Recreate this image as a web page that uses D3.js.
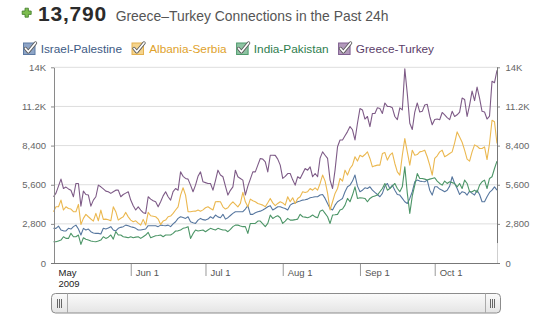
<!DOCTYPE html>
<html><head><meta charset="utf-8">
<script src="https://cdn.jsdelivr.net/npm/d3@7"></script>
<style>
html,body{margin:0;padding:0;background:#fff;}
svg{display:block;font-family:"Liberation Sans",Arial,sans-serif;}
</style></head><body>
<svg id="chart" width="544" height="327"></svg>
<script>
// ---------- data ----------
const headlineValue = 13790;
const headlineText = "Greece\u2013Turkey Connections in the Past 24h";
const seriesNames = ["Israel-Palestine", "Albania-Serbia", "India-Pakistan", "Greece-Turkey"];
const startDay = "2009-05-01";   // first daily point
const endDay = "2009-10-26";     // last daily point
const monthTicks = ["2009-05-01", "2009-06-01", "2009-07-01", "2009-08-01", "2009-09-01", "2009-10-01"];
const monthLabels = ["May", "Jun 1", "Jul 1", "Aug 1", "Sep 1", "Oct 1"];
const yearLabel = "2009";
const yTicks = [0, 2800, 5600, 8400, 11200, 14000];
const yTickLabels = ["0", "2,800", "5,600", "8,400", "11.2K", "14K"];

const israelPalestine = [
2480,2480,2640,2360,2300,2290,2480,2430,2600,2710,
2430,2000,2480,2360,2430,2240,2150,2120,2120,2070,
2480,2430,2500,2600,2360,2290,2480,2550,2600,2710,
2670,2600,2550,2480,2360,2360,2400,2430,2670,2670,
2670,2670,2600,2710,2680,2670,2710,2600,2800,2950,
3190,3310,3250,3190,3310,2950,2880,2830,3070,3190,
3100,3070,3140,3310,3190,3430,3300,3240,3480,3140,
3240,3400,3550,3670,3670,3670,3670,3860,4100,3480,
3480,3600,3670,3710,3790,3900,4020,4100,3790,3900,
4020,4020,3950,3900,3790,4140,4260,4300,4380,4430,
4500,4520,4570,4670,4700,4740,4740,4860,4900,4620,
4260,3900,3790,4140,4380,4500,4620,5100,5450,5570,
5860,6290,5500,5100,5210,5380,5330,5450,5210,5050,
4900,4740,4980,5500,5690,5330,5570,5210,4900,4860,
4620,4380,4260,4620,5100,5810,5930,5860,5830,5810,
5930,5210,4860,5450,5450,5290,5210,5100,5210,5500,
6170,5690,5330,4900,5100,5050,4860,5140,4980,4860,
5210,4900,4380,4380,4740,5050,5210,5450,5210];

const albaniaSerbia = [
3670,4020,4020,4500,3790,4020,3900,3860,3670,3670,
4190,2760,3190,3480,3310,3150,3000,3550,3020,3790,
3120,3140,3100,3020,4020,3670,3070,3200,3310,3620,
3300,3070,2950,3020,2850,2710,3120,2710,3620,3380,
3350,3310,3140,2760,3000,3070,3310,3360,3550,3790,
4020,4860,5380,4860,3670,3670,3700,3710,3790,3710,
3800,3950,4020,3900,3790,4380,4400,4380,4020,3860,
3950,4190,4380,4200,4020,4260,5050,4380,4020,4570,
4450,4380,4260,4200,4140,4020,4310,4620,4300,4100,
4260,4380,4300,4140,4740,4380,4670,4260,4620,4740,
5100,5050,5100,5330,5210,5380,5210,5690,6290,5860,
5000,3790,4380,4980,5330,6050,5860,6640,6290,6760,
7000,7600,7290,7710,7600,7760,7950,7480,6880,6950,
7000,7000,7830,7900,7360,7710,7880,7120,6520,6290,
7710,8900,7950,7000,8070,7710,7760,7950,8000,8070,
7600,7000,6290,7480,7670,7950,8070,7600,7710,7830,
7950,8600,9380,9020,8640,8070,7430,7290,7950,8450,
8360,8190,8190,8310,7400,8550,10210,10100,8550];

const indiaPakistan = [
1520,1520,1580,1640,1880,1760,1760,2120,1880,1880,
2000,1330,1810,1700,1640,1570,1540,1520,1570,1640,
1880,1760,1850,2000,1710,2240,2000,2000,1880,1850,
1810,1880,1810,1850,1880,1760,1880,2000,2190,1810,
1880,1950,1970,2000,1880,2000,2000,2000,2120,2290,
2300,2360,2480,2520,2600,1760,2100,2360,2290,2330,
2360,2240,2360,2480,2420,2360,2480,2420,2360,2360,
2240,2400,2600,2710,2710,2650,2600,2600,2120,2830,
2830,2830,3000,3000,2800,2600,2830,3430,3190,3300,
3380,3240,2830,3000,3190,3070,3070,3100,3140,3480,
3310,3280,3240,3310,3430,3300,3240,3710,3790,3550,
3310,2830,3430,3450,3480,3790,3860,4140,4620,4380,
4860,5450,4620,4670,4650,4620,4380,4620,4740,4800,
4860,5100,5330,5690,5210,5330,5500,5690,5330,5100,
5450,6880,5000,3550,4800,5570,6400,6050,6050,6000,
5930,6000,6050,6100,5860,5690,5570,5860,5690,5810,
5750,5690,5450,5690,5330,5930,5690,5100,5100,5210,
5050,5570,5810,5930,5330,6050,6170,6760,7290];

const greeceTurkey = [
4740,5000,5500,6000,5330,5430,5300,5200,4740,5690,
5690,4070,5140,4900,4860,4070,4500,4740,5570,5450,
5300,5140,5100,4980,5100,5210,5210,4740,4900,5000,
5100,4500,4100,3790,4020,3790,3600,3550,4740,4570,
4450,4380,4020,4380,4800,5100,4740,4500,5100,5330,
5210,6520,6200,6050,6000,5570,5100,5570,6200,6520,
5810,5750,5690,5690,5210,5900,6640,6300,6170,5500,
4860,5200,5450,6640,6170,6050,5930,4860,5500,6000,
6520,6520,7000,7480,7430,7240,6520,7710,7710,7700,
7430,7000,6050,6200,6400,6400,5950,5570,6170,6050,
6400,6760,6640,6880,6170,6400,6170,7500,7950,7710,
7480,5930,5330,6640,8320,8800,8800,9100,9400,9760,
9530,8800,10000,11050,10950,10300,10480,9760,10700,10700,
11100,11050,10700,11450,11200,11200,11100,10480,10260,11100,
10950,13900,12100,10000,9550,10800,11450,10800,10850,11300,
11350,10500,9890,10270,10300,10250,10770,10600,10400,10260,
10850,10480,10600,10800,11800,11700,10480,11300,12300,11620,
12580,11800,10850,10800,10300,10500,13000,12900,13790];

const seriesValues = [israelPalestine, albaniaSerbia, indiaPakistan, greeceTurkey];

// ---------- styles ----------
const lineColors = ["#57779f", "#ebb850", "#4c9567", "#7e5b87"];
const legendText = ["#3d5a84", "#e0a22c", "#2f7d4e", "#5b3d69"];
const boxFill = ["#8ea5c7", "#f5d48d", "#8ec3a2", "#b29abb"];
const boxStroke = ["#5d7aa3", "#e3b04e", "#4f9a6c", "#806090"];

const parse = d3.timeParse("%Y-%m-%d");
const t0 = parse(startDay), t1 = parse(endDay);
const dates = d3.timeDay.range(t0, d3.timeDay.offset(t1, 1));

const svg = d3.select("#chart");

const x = d3.scaleTime().domain([t0, t1]).range([53.5, 497]);
const y = d3.scaleLinear().domain([0, 14000]).range([263, 67.3]);
const L = 54, R = 497;

// ---------- header ----------
const plus = svg.append("g").attr("transform", "translate(26.7,12.7)");
plus.append("path")
  .attr("d", "M-1.7,-4.5H1.7V-1.7H4.5V1.7H1.7V4.5H-1.7V1.7H-4.5V-1.7H-1.7Z")
  .attr("fill", "#7dbd4f").attr("stroke", "#3f7a28").attr("stroke-width", 0.8);

svg.append("text").attr("x", 38).attr("y", 20.7)
  .attr("font-size", 21).attr("font-weight", "bold").attr("letter-spacing", 0.8)
  .attr("fill", "#2b2b2b").text(d3.format(",")(headlineValue));
svg.append("text").attr("x", 115.7).attr("y", 20.7)
  .attr("font-size", 13.9).attr("fill", "#555").text(headlineText);

// ---------- legend ----------
let lx = 23;
seriesNames.forEach((name, i) => {
  const g = svg.append("g").attr("transform", `translate(${lx},42.5)`);
  g.append("rect").attr("x", 0.5).attr("y", 0.5).attr("width", 11.5).attr("height", 11.5)
    .attr("fill", boxFill[i]).attr("stroke", boxStroke[i]).attr("stroke-width", 1);
  const ck = "M2.5,6 L5.3,9.3 L12.5,0.5";
  g.append("path").attr("d", ck).attr("fill", "none").attr("stroke", "#5a5a5a")
    .attr("stroke-width", 3.4).attr("stroke-linecap", "round").attr("stroke-linejoin", "round");
  g.append("path").attr("d", ck).attr("fill", "none").attr("stroke", "#fff")
    .attr("stroke-width", 1.7).attr("stroke-linecap", "round").attr("stroke-linejoin", "round");
  const t = g.append("text").attr("x", 17.7).attr("y", 10.8).attr("font-size", 11.8)
    .attr("fill", legendText[i]).text(name);
  lx += 17.7 + t.node().getComputedTextLength() + 9.5;
});

// ---------- grid ----------
svg.append("g").selectAll("line").data(yTicks.filter(d => d > 0)).join("line")
  .attr("x1", L).attr("x2", R).attr("y1", d => y(d)).attr("y2", d => y(d))
  .attr("stroke", "#dedede").attr("stroke-width", 1);

// ---------- lines ----------
const line = d3.line().x((d, i) => x(dates[i])).y(d => y(d));
svg.append("g").selectAll("path").data(seriesValues).join("path")
  .attr("d", d => line(d)).attr("fill", "none")
  .attr("stroke", (d, i) => lineColors[i]).attr("stroke-width", 1.1)
  .attr("stroke-linejoin", "round");

// ---------- y axes ----------
const fmtY = d => yTickLabels[yTicks.indexOf(d)];
const yl = svg.append("g").attr("transform", `translate(${L},0)`)
  .call(d3.axisLeft(y).tickValues(yTicks).tickFormat(fmtY).tickSizeInner(3).tickSizeOuter(0).tickPadding(5));
const yr = svg.append("g").attr("transform", `translate(${R},0)`)
  .call(d3.axisRight(y).tickValues(yTicks).tickFormat(fmtY).tickSizeInner(3).tickSizeOuter(0).tickPadding(5.5));
[yl, yr].forEach(a => {
  a.select(".domain").attr("stroke", "#8a8a8a");
  a.selectAll(".tick line").attr("stroke", "#8a8a8a");
  a.selectAll("text").attr("font-size", 9.5).attr("fill", "#666").attr("font-family", "Liberation Sans, Arial, sans-serif");
});
// lighter bottom segment on the right axis as in the reference
yr.select(".domain").remove();
yr.append("line").attr("x1", 0.5).attr("x2", 0.5).attr("y1", y(14000)).attr("y2", y(1400)).attr("stroke", "#777");
yr.append("line").attr("x1", 0.5).attr("x2", 0.5).attr("y1", y(1400)).attr("y2", y(0)).attr("stroke", "#cfcfcf");

// ---------- x axis ----------
const tickDates = monthTicks.map(parse);
const xa = svg.append("g").attr("transform", "translate(0,263)")
  .call(d3.axisBottom(x).tickValues(tickDates)
    .tickFormat((d, i) => monthLabels[i]).tickSizeInner(13).tickSizeOuter(0).tickPadding(0));
xa.select(".domain").remove();
xa.append("line").attr("x1", 51).attr("x2", 500).attr("y1", 0.5).attr("y2", 0.5).attr("stroke", "#777");
xa.selectAll(".tick line").attr("stroke", "#999").attr("y1", 1);
xa.selectAll(".tick").filter((d, i) => i === 0).select("line").remove();
xa.selectAll(".tick text")
  .attr("text-anchor", "start").attr("x", 4.5).attr("y", 12.5).attr("dy", 0)
  .attr("font-size", 9.5).attr("fill", (d, i) => i === 0 ? "#222" : "#555")
  .attr("font-family", "Liberation Sans, Arial, sans-serif");
xa.selectAll(".tick").filter((d, i) => i === 0).append("text")
  .attr("x", 4.5).attr("y", 23.5).attr("font-size", 9.5).attr("fill", "#222")
  .attr("text-anchor", "start").text(yearLabel);

// ---------- range scroller ----------
const defs = svg.append("defs");
const grad = defs.append("linearGradient").attr("id", "sg").attr("x1", 0).attr("x2", 0).attr("y1", 0).attr("y2", 1);
grad.append("stop").attr("offset", 0).attr("stop-color", "#fbfbfb");
grad.append("stop").attr("offset", 1).attr("stop-color", "#e4e4e4");
const sc = svg.append("g");
const sx0 = 51.5, sx1 = 500.5, sy0 = 293.5, sy1 = 313;
sc.append("rect").attr("x", sx0).attr("y", sy0).attr("width", sx1 - sx0).attr("height", sy1 - sy0)
  .attr("rx", 4).attr("fill", "url(#sg)").attr("stroke", "#8c8c8c");
[67.5, 485.5].forEach(v => sc.append("line").attr("x1", v).attr("x2", v).attr("y1", sy0).attr("y2", sy1).attr("stroke", "#aaa"));
[[57.5, 59.5, 61.5], [490.5, 492.5, 494.5]].forEach(grp => grp.forEach(v =>
  sc.append("line").attr("x1", v).attr("x2", v).attr("y1", 299).attr("y2", 308).attr("stroke", "#666")));
</script>
</body></html>
